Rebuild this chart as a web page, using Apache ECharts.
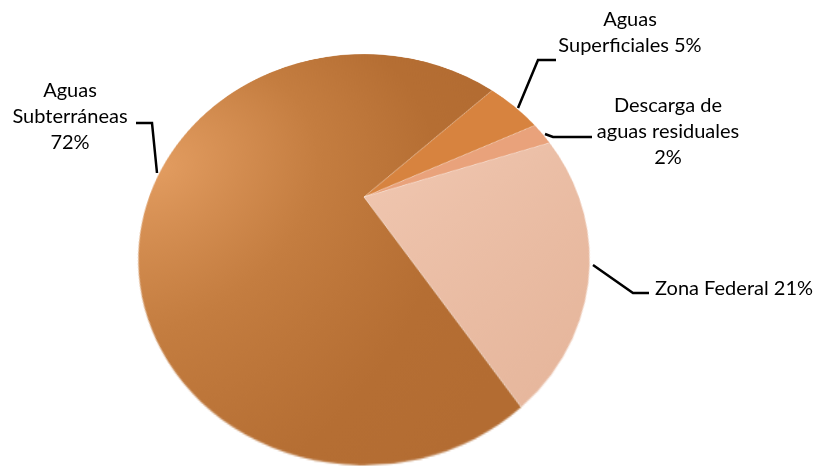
<!DOCTYPE html>
<html>
<head>
<meta charset="utf-8">
<script src="https://cdn.jsdelivr.net/npm/echarts@6/dist/echarts.min.js"></script>
<style>
  html, body { margin: 0; padding: 0; background: #ffffff; overflow: hidden; }
  #wrap { position: relative; width: 814px; height: 466px; overflow: hidden; }
  #pie { position: absolute; left: 0; top: -60px; width: 814px; height: 560px;
         transform-origin: 364px 257px;
         transform: perspective(350px) rotateX(29.8deg); }
  #lab { position: absolute; left: 0; top: 0; width: 814px; height: 466px; }
</style>
</head>
<body>
<div id="wrap"><div id="pie"></div><div id="lab"></div></div>
<script>
// Data
const categories = ['Aguas\nSubterráneas', 'Aguas\nSuperficiales', 'Descarga de\naguas residuales', 'Zona Federal'];
const values = [72, 5, 2, 21];
const labelSeparators = ['\n', ' ', '\n', ' '];

const sliceColors = [
  { type: 'radial', x: 0.0, y: 0.42, r: 1.0,
    colorStops: [{ offset: 0, color: '#e29c60' }, { offset: 0.45, color: '#c47d40' }, { offset: 0.8, color: '#b56e33' }, { offset: 1, color: '#b36c32' }] },
  '#d7833f',
  '#e9a27b',
  { type: 'linear', x: 0, y: 0, x2: 1, y2: 1,
    colorStops: [{ offset: 0, color: '#f1c8b2' }, { offset: 1, color: '#e4b398' }] }
];

const pieData = categories.map((c, i) => ({
  name: c, value: values[i],
  itemStyle: { color: sliceColors[i] }
}));

const pieChart = echarts.init(document.getElementById('pie'), null, { renderer: 'canvas' });
pieChart.setOption({
  animation: false,
  series: [{
    type: 'pie',
    center: [364, 257],
    radius: 215,
    startAngle: 303,
    clockwise: true,
    silent: true,
    label: { show: false },
    labelLine: { show: false },
    itemStyle: { borderColor: 'rgba(255,255,255,0.22)', borderWidth: 1 },
    data: pieData
  }]
});

// Label positions (layout only)
const labelPos = [
  { x: 70, y: 117, align: 'center', pts: [[157, 173], [152, 123], [136, 123]] },
  { x: 630, y: 33, align: 'center', pts: [[518, 108], [538, 60], [556, 60]] },
  { x: 668, y: 132, align: 'center', pts: [[545, 134], [553, 137], [592, 137]] },
  { x: 655, y: 289, align: 'left', pts: [[593, 265], [633, 293], [649, 293]] }
];

const labChart = echarts.init(document.getElementById('lab'), null, { renderer: 'canvas' });
labChart.setOption({
  animation: false,
  series: [{
    type: 'pie',
    center: [364, 197],
    radius: 200,
    startAngle: 303,
    silent: true,
    itemStyle: { color: 'rgba(0,0,0,0)' },
    emphasis: { disabled: true },
    label: {
      show: true,
      position: 'outside',
      overflow: 'none',
      fontFamily: 'Lato',
      fontSize: 20,
      lineHeight: 26,
      color: '#000000',
      formatter: p => p.name + labelSeparators[p.dataIndex] + p.value + '%'
    },
    labelLine: { show: true, lineStyle: { color: '#000000', width: 2.5 } },
    labelLayout: params => {
      const lp = labelPos[params.dataIndex];
      return { x: lp.x, y: lp.y, align: lp.align, verticalAlign: 'middle', labelLinePoints: lp.pts };
    },
    data: categories.map((c, i) => ({ name: c, value: values[i] }))
  }]
});
</script>
</body>
</html>
